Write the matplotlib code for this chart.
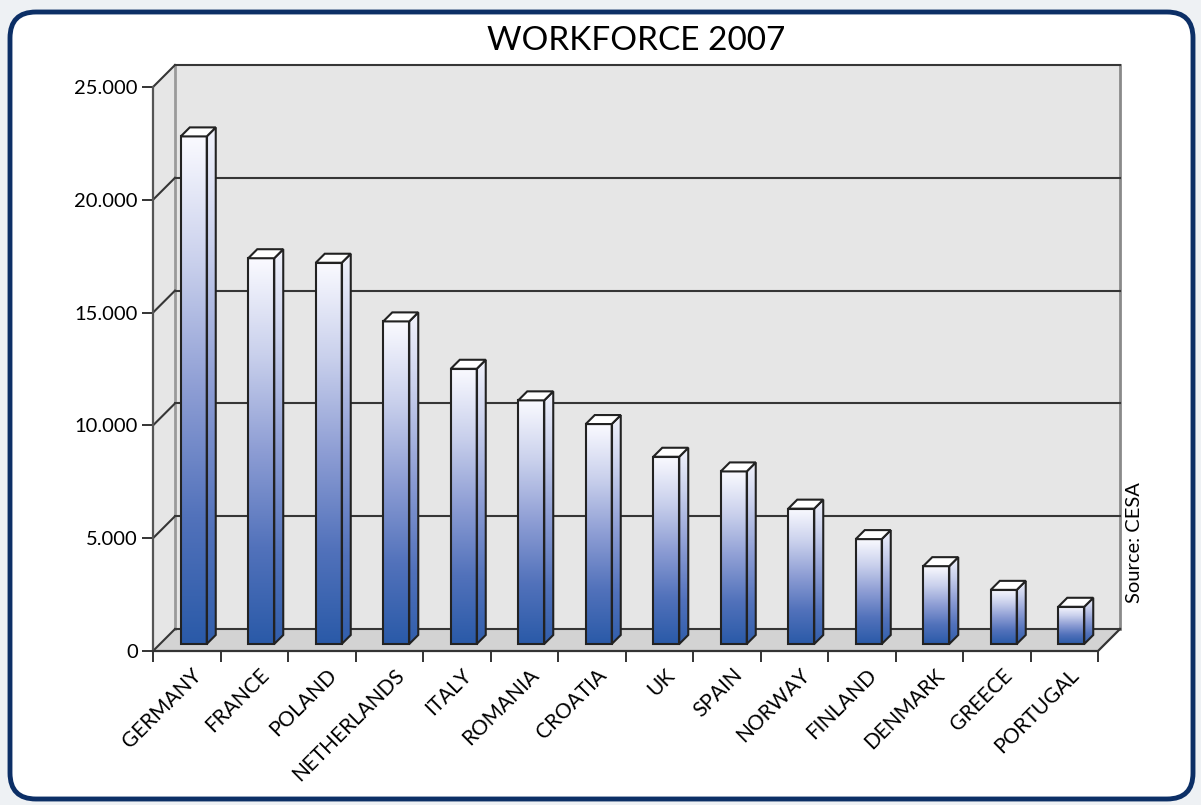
import numpy as np
import matplotlib
matplotlib.use("Agg")
from matplotlib import pyplot as plt
from matplotlib import transforms
from matplotlib.patches import Polygon, FancyBboxPatch
from matplotlib.colors import LinearSegmentedColormap

plt.rcParams["font.family"] = ["Lato", "DejaVu Sans"]

countries = ["GERMANY", "FRANCE", "POLAND", "NETHERLANDS", "ITALY", "ROMANIA",
             "CROATIA", "UK", "SPAIN", "NORWAY", "FINLAND", "DENMARK",
             "GREECE", "PORTUGAL"]
workforce = [22500, 17100, 16900, 14300, 12200, 10800, 9750,
             8300, 7650, 6000, 4650, 3450, 2400, 1650]
yticks = [0, 5000, 10000, 15000, 20000, 25000]
ymax = 25000

W, H = 1201, 805
fig = plt.figure(figsize=(W / 100, H / 100), dpi=100, facecolor="#eef1f4")

# background layer in pixel coords: rounded frame, title, source
bg = fig.add_axes([0, 0, 1, 1])
bg.set_xlim(0, W)
bg.set_ylim(H, 0)
bg.axis("off")
bg.add_patch(FancyBboxPatch((10, 12), 1183, 787,
                            boxstyle="round,pad=0,rounding_size=26",
                            facecolor="white", edgecolor="#0c2f66", lw=3.5))
bg.text(636, 41, "WORKFORCE 2007", ha="center", va="center", fontsize=24)
bg.text(1135, 543, "Source: CESA", rotation=90, ha="center", va="center",
        fontsize=14.5)

# front plane of the 3d box
x0px, x1px, y0px, y1px = 153, 1098, 651, 87
ax = fig.add_axes([x0px / W, (H - y0px) / H, (x1px - x0px) / W, (y0px - y1px) / H])
n = len(countries)
ux = (x1px - x0px) / n
uy = (y0px - y1px) / ymax

def px(dx, dy):
    return dx / ux, dy / uy

DX, DY = px(22, 22)

wall = "#e6e6e6"
floor = "#d3d3d3"
dark = "#333333"

ax.add_patch(Polygon([(DX, DY), (n + DX, DY), (n + DX, ymax + DY), (DX, ymax + DY)],
                     closed=True, fc=wall, ec="none", zorder=0, clip_on=False))
ax.add_patch(Polygon([(0, 0), (DX, DY), (DX, ymax + DY), (0, ymax)],
                     closed=True, fc=wall, ec="none", zorder=0, clip_on=False))
ax.add_patch(Polygon([(0, 0), (n, 0), (n + DX, DY), (DX, DY)],
                     closed=True, fc=floor, ec="none", zorder=1, clip_on=False))

# gridlines on the back wall + diagonals on the side wall
for v in yticks:
    ax.plot([DX, n + DX], [v + DY, v + DY], color="#363636", lw=1.5, zorder=1.5,
            clip_on=False)
    ax.plot([0, DX], [v, v + DY], color="#363636", lw=1.5, zorder=1.5, clip_on=False)

ax.plot([DX, DX], [DY, ymax + DY], color="#9a9a9a", lw=2, zorder=1.4, clip_on=False)
ax.plot([n + DX, n + DX], [DY, ymax + DY], color="#8a8a8a", lw=2, zorder=1.4,
        clip_on=False)
ax.plot([0, 0], [0, ymax], color="#555555", lw=1.6, zorder=2, clip_on=False)
ax.plot([0, n, n + DX], [0, 0, DY], color=dark, lw=1.6, zorder=2, clip_on=False)

cmap = LinearSegmentedColormap.from_list(
    "bluefade", ["#2a5aa8", "#5272bb", "#8d9dd4", "#c9d0ec", "#fafaff"])
grad = np.linspace(0, 1, 256).reshape(-1, 1)

bw = 0.385
fdx, fdy = px(7, 7)
sdx, sdy = px(9, 9)
edge = "#222222"

for i, v in enumerate(workforce):
    xl = i + 0.5 - bw / 2 + fdx
    xr = xl + bw
    yb = fdy
    yt = fdy + v
    front = Polygon([(xl, yb), (xr, yb), (xr, yt), (xl, yt)], closed=True,
                    fc="none", ec=edge, lw=1.5, zorder=5)
    side = Polygon([(xr, yb), (xr + sdx, yb + sdy), (xr + sdx, yt + sdy), (xr, yt)],
                   closed=True, fc="none", ec=edge, lw=1.5, zorder=5)
    top = Polygon([(xl, yt), (xr, yt), (xr + sdx, yt + sdy), (xl + sdx, yt + sdy)],
                  closed=True, fc="white", ec=edge, lw=1.5, zorder=5)
    for p in (front, side, top):
        ax.add_patch(p)
    im = ax.imshow(grad, extent=[xl, xr, yb, yt], origin="lower", aspect="auto",
                   cmap=cmap, zorder=4, interpolation="bilinear")
    im.set_clip_path(front)
    im2 = ax.imshow(grad, extent=[xr, xr + sdx, yb, yt + sdy], origin="lower",
                    aspect="auto", cmap=cmap, zorder=4, interpolation="bilinear",
                    vmin=-0.05, vmax=1.05)
    im2.set_clip_path(side)

ax.set_xlim(0, n)
ax.set_ylim(0, ymax)
ax.patch.set_alpha(0)
for s in ax.spines.values():
    s.set_visible(False)

ax.set_yticks(yticks)
ax.set_yticklabels([f"{v:,}".replace(",", ".") for v in yticks])
ax.tick_params(axis="y", length=8, width=1.4, color=dark, pad=3, labelsize=14.5)
ax.set_xticks(range(n + 1))
ax.set_xticklabels([])
ax.tick_params(axis="x", direction="out", length=8, width=1.4, color=dark)

lab_tr = transforms.offset_copy(ax.transData, fig=fig, x=12, y=-21, units="dots")
for i, c in enumerate(countries):
    ax.text(i + 0.5, 0, c, transform=lab_tr, rotation=45, rotation_mode="anchor",
            ha="right", va="center", fontsize=15)

fig.savefig("out.png", dpi=100, facecolor=fig.get_facecolor())
